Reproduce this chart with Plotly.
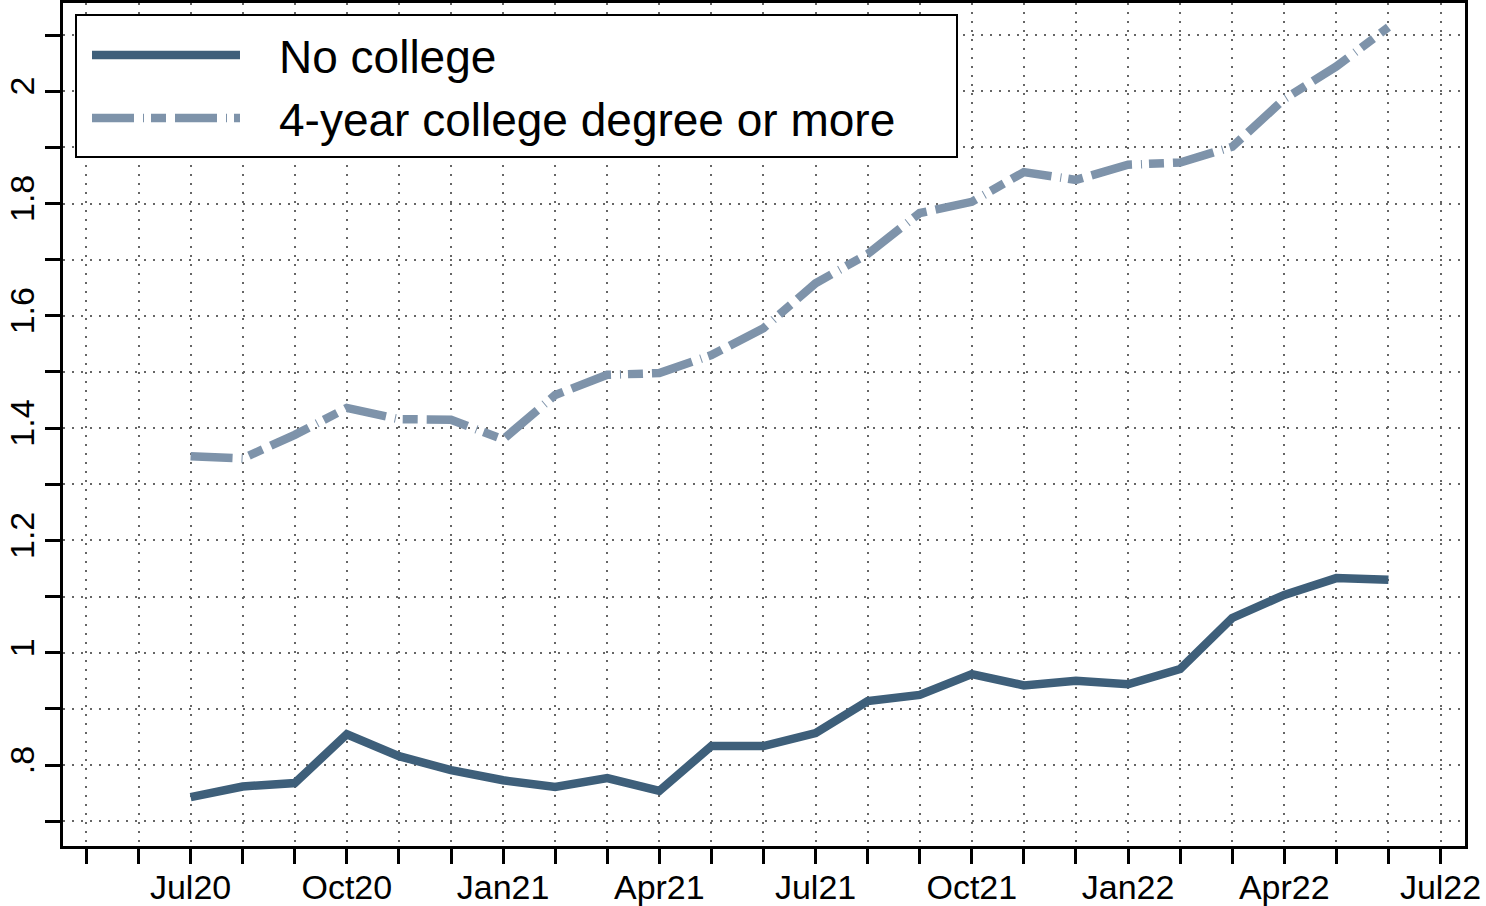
import plotly.graph_objects as go

# monthly series, Jul20 .. Jun22
months = ["Jul20", "Aug20", "Sep20", "Oct20", "Nov20", "Dec20",
          "Jan21", "Feb21", "Mar21", "Apr21", "May21", "Jun21",
          "Jul21", "Aug21", "Sep21", "Oct21", "Nov21", "Dec21",
          "Jan22", "Feb22", "Mar22", "Apr22", "May22", "Jun22"]
no_college = [0.743, 0.762, 0.768, 0.855, 0.816, 0.791,
              0.773, 0.761, 0.777, 0.754, 0.834, 0.834,
              0.857, 0.914, 0.925, 0.962, 0.942, 0.950,
              0.944, 0.971, 1.062, 1.103, 1.133, 1.130]
college = [1.350, 1.346, 1.388, 1.436, 1.416, 1.415,
           1.380, 1.459, 1.495, 1.498, 1.530, 1.578,
           1.658, 1.710, 1.783, 1.803, 1.856, 1.842,
           1.869, 1.873, 1.901, 1.986, 2.044, 2.114]
series_names = ["No college", "4-year college degree or more"]

# x ticks every month from May20 to Jul22, labelled quarterly
x_tick_labels = ["", "", "Jul20", "", "", "Oct20", "", "", "Jan21", "", "",
                 "Apr21", "", "", "Jul21", "", "", "Oct21", "", "", "Jan22",
                 "", "", "Apr22", "", "", "Jul22"]
y_tick_vals = [0.7, 0.8, 0.9, 1.0, 1.1, 1.2, 1.3, 1.4, 1.5, 1.6, 1.7, 1.8,
               1.9, 2.0, 2.1]
y_tick_labels = ["", ".8", "", "1", "", "1.2", "", "1.4", "", "1.6", "",
                 "1.8", "", "2", ""]

DARK = "#3e5f7a"
LIGHT = "#7e93aa"
COLLEGE_DASH = "42px,9px,1px,7px,15px,9px"
FONT = "Liberation Sans, Arial, Helvetica, sans-serif"

W, H = 1486, 906
L, R, T, B = 63, 21, 3, 60

x_idx = list(range(len(months)))
x_ticks = list(range(-2, -2 + len(x_tick_labels)))

fig = go.Figure()
fig.add_trace(go.Scatter(x=x_idx, y=no_college, mode="lines",
                         name=series_names[0], showlegend=False,
                         line=dict(color=DARK, width=8.5)))
fig.add_trace(go.Scatter(x=x_idx, y=college, mode="lines",
                         name=series_names[1], showlegend=False,
                         line=dict(color=LIGHT, width=8.5, dash=COLLEGE_DASH)))


def px_x(p):
    return (p - L) / (W - L - R)


def px_y(p):
    return 1 - (p - T) / (H - T - B)


# hand-built legend so the line samples are as long as in the original
fig.add_shape(type="rect", xref="paper", yref="paper",
              x0=px_x(76), x1=px_x(957), y0=px_y(157), y1=px_y(15),
              line=dict(color="black", width=2), fillcolor="white")
for i, (col, dash, yy) in enumerate([(DARK, "solid", 55), (LIGHT, COLLEGE_DASH, 118)]):
    fig.add_shape(type="line", xref="paper", yref="paper",
                  x0=px_x(92), x1=px_x(240), y0=px_y(yy), y1=px_y(yy),
                  line=dict(color=col, width=8.5, dash=dash))
    fig.add_annotation(x=px_x(277), y=px_y(yy + 2), xref="paper", yref="paper",
                       text=series_names[i], showarrow=False, xanchor="left",
                       yanchor="middle", font=dict(size=46, color="black", family=FONT))

grid = dict(showgrid=True, gridcolor="#666666", gridwidth=1.5, griddash="1.5px,7.5px",
            zeroline=False, showline=True, linecolor="black", linewidth=3,
            mirror=True, ticks="outside", ticklen=15, tickwidth=2.5,
            tickcolor="black", automargin=False)

fig.update_xaxes(range=[-2.45, 24.47], tickvals=x_ticks, ticktext=x_tick_labels,
                 tickfont=dict(size=34, color="black", family=FONT),
                 ticklabelstandoff=-6, **grid)
fig.update_yaxes(range=[0.656, 2.157], tickvals=y_tick_vals, ticktext=y_tick_labels,
                 tickangle=-90, tickfont=dict(size=34, color="black", family=FONT),
                 ticklabelstandoff=-3, **grid)

fig.update_layout(width=W, height=H, margin=dict(l=L, r=R, t=T, b=B),
                  plot_bgcolor="white", paper_bgcolor="white",
                  font=dict(family=FONT), showlegend=False)

# drop the default page margin so the figure sits at the window corner
fig.write_html("out.html", config={"displayModeBar": False},
               post_script="document.body.style.margin='0px';")
